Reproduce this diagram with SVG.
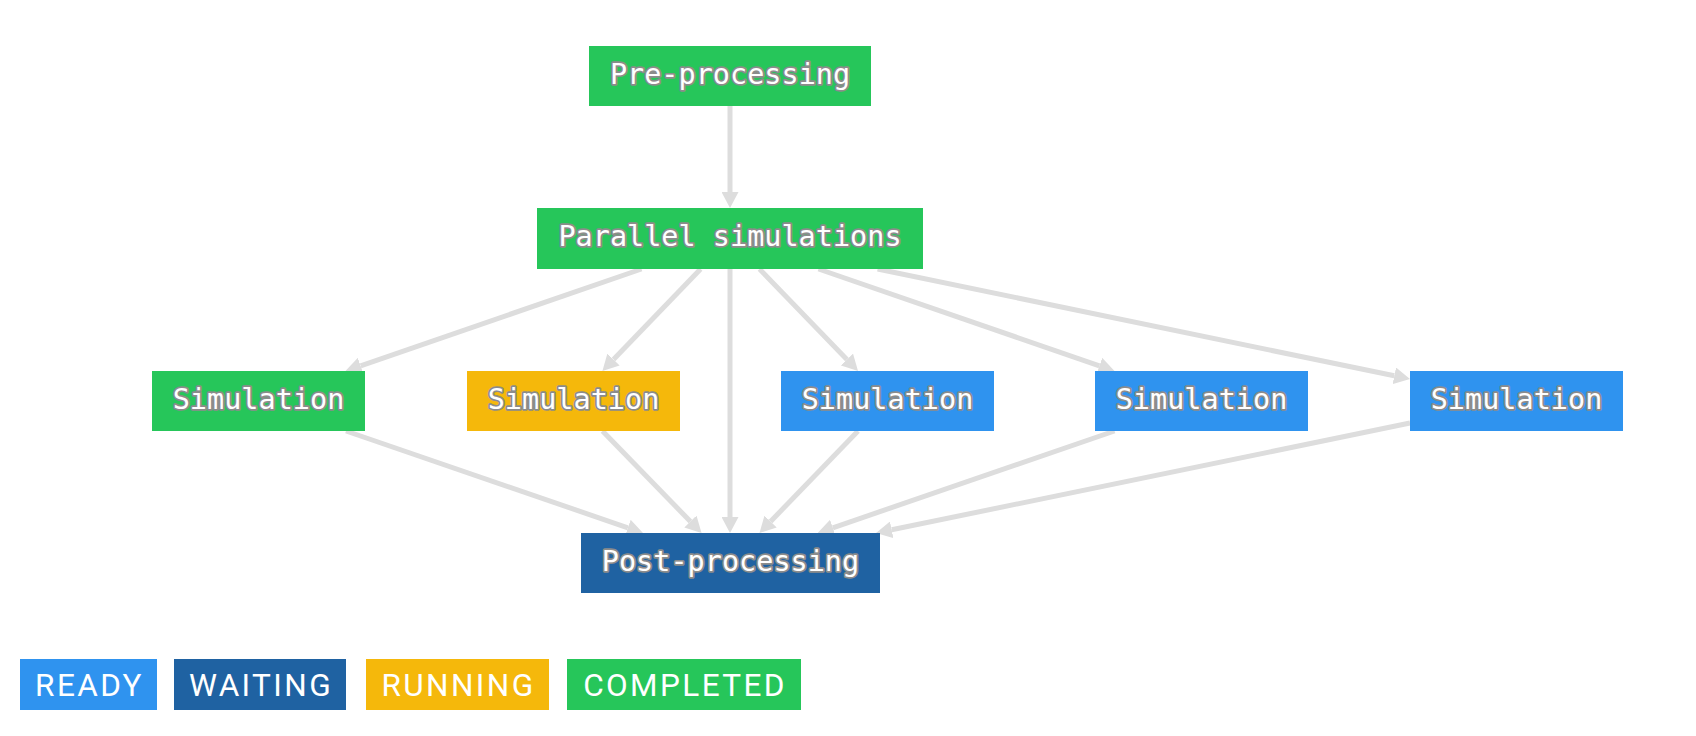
<svg xmlns="http://www.w3.org/2000/svg" width="1696" height="736" viewBox="0 0 1696 736">
<style>
.bg{fill:#ffffff}
.completed{fill:#26C65A}
.running{fill:#F5B80B}
.ready{fill:#2F93EF}
.waiting{fill:#1F62A2}
.lbl{font-family:"DejaVu Sans Mono","Liberation Mono",monospace;font-size:28.5px;fill:#ffffff;stroke:#8c8c8c;stroke-width:3.5px;paint-order:stroke;stroke-linejoin:round;text-anchor:middle}
.leg{font-family:Roboto,"Liberation Sans",sans-serif;font-size:31.5px;fill:#ffffff;letter-spacing:2.4px;text-anchor:middle}
.edge{stroke:#DDDDDD;stroke-width:5;fill:none;marker-end:url(#arr)}
</style>
<defs>
<marker id="arr" markerUnits="userSpaceOnUse" markerWidth="17" markerHeight="17" viewBox="0 0 17 17" refX="0" refY="8.5" orient="auto">
<path d="M0,0 L16,8.5 L0,17 z" fill="#DDDDDD"/>
</marker>
</defs>
<rect class="bg" x="0" y="0" width="1696" height="736"/>
<g id="connectors">
<line class="edge" x1="730" y1="106" x2="730" y2="192"/>
<line class="edge" x1="641.5" y1="269" x2="360.6" y2="365.8"/>
<line class="edge" x1="700.6" y1="269" x2="613.5" y2="359.5"/>
<line class="edge" x1="759.5" y1="269" x2="846.9" y2="359.5"/>
<line class="edge" x1="818.5" y1="269" x2="1099.4" y2="365.8"/>
<line class="edge" x1="877.6" y1="269" x2="1394.3" y2="375.8"/>
<line class="edge" x1="730" y1="269" x2="730" y2="517"/>
<line class="edge" x1="346" y1="431" x2="627.9" y2="527.8"/>
<line class="edge" x1="602.5" y1="431" x2="690.4" y2="521.5"/>
<line class="edge" x1="858" y1="431" x2="770.6" y2="521.5"/>
<line class="edge" x1="1114.5" y1="431" x2="832.8" y2="527.8"/>
<line class="edge" x1="1410" y1="423" x2="891.7" y2="529.8"/>
</g>
<g id="pre">
<rect class="completed" x="589" y="46" width="282" height="60"/>
<text class="lbl" x="730" y="84">Pre-processing</text>
</g>
<g id="parallel">
<rect class="completed" x="537" y="208" width="386" height="61"/>
<text class="lbl" x="730" y="246">Parallel simulations</text>
</g>
<g id="sim1">
<rect class="completed" x="152" y="371" width="213" height="60"/>
<text class="lbl" x="258.5" y="408.5">Simulation</text>
</g>
<g id="sim2">
<rect class="running" x="467" y="371" width="213" height="60"/>
<text class="lbl" x="573.5" y="408.5">Simulation</text>
</g>
<g id="sim3">
<rect class="ready" x="781" y="371" width="213" height="60"/>
<text class="lbl" x="887.5" y="408.5">Simulation</text>
</g>
<g id="sim4">
<rect class="ready" x="1095" y="371" width="213" height="60"/>
<text class="lbl" x="1201.5" y="408.5">Simulation</text>
</g>
<g id="sim5">
<rect class="ready" x="1410" y="371" width="213" height="60"/>
<text class="lbl" x="1516.5" y="408.5">Simulation</text>
</g>
<g id="post">
<rect class="waiting" x="581" y="533" width="299" height="60"/>
<text class="lbl" x="730.5" y="570.5">Post-processing</text>
</g>
<g id="legend">
<rect class="ready" x="20" y="659" width="137" height="51"/>
<text class="leg" x="89.5" y="696">READY</text>
<rect class="waiting" x="174" y="659" width="172" height="51"/>
<text class="leg" x="261" y="696">WAITING</text>
<rect class="running" x="366" y="659" width="183" height="51"/>
<text class="leg" x="458.5" y="696">RUNNING</text>
<rect class="completed" x="567" y="659" width="234" height="51"/>
<text class="leg" x="685" y="696">COMPLETED</text>
</g>
</svg>
